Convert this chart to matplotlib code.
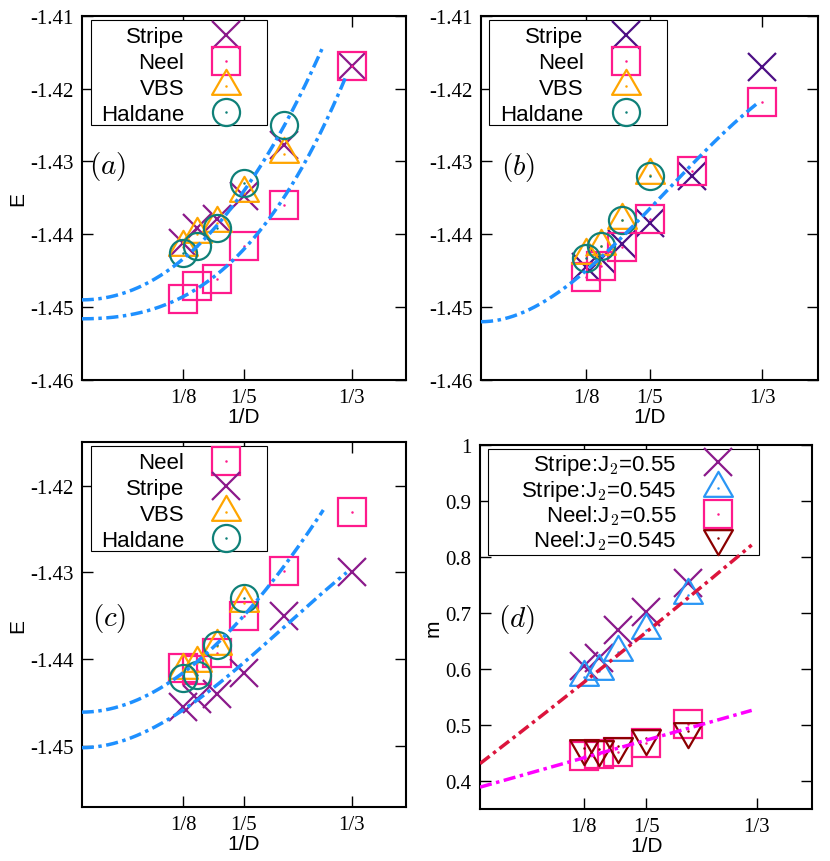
import numpy as np
import matplotlib
matplotlib.use('Agg')
import matplotlib.pyplot as plt
from matplotlib.path import Path
from matplotlib.patches import Rectangle
from matplotlib.legend_handler import HandlerTuple
from matplotlib.font_manager import FontProperties

plt.rcParams['axes.unicode_minus'] = False
plt.rcParams['mathtext.fontset'] = 'cm'
plt.rcParams['font.family'] = ['Liberation Serif', 'DejaVu Serif']

# ---------------- data ----------------
inv_D = [1/8, 1/7, 1/6, 1/5, 1/4, 1/3]
x_ticks = [1/8, 1/5, 1/3]
x_tick_labels = ['1/8', '1/5', '1/3']

# panel (a)
a_stripe = [-1.4412, -1.4391, -1.4379, -1.4347, -1.4278, -1.4169]
a_neel = [-1.4489, -1.4471, -1.4461, -1.4416, -1.4360, -1.4169]
a_vbs = [-1.4418, -1.4400, -1.4385, -1.4344, -1.4290]
a_haldane = [-1.4426, -1.4416, -1.4391, -1.4330, -1.4250]
a_fit_upper = [-1.4490, 0.3344, 0.192]   # E0, c2, c3  (E = E0 + c2 x^2 + c3 x^3)
a_fit_upper_xmax = 0.2967
a_fit_lower = [-1.4516, 0.12, 0.59]
a_fit_lower_xmax = 0.327

# panel (b)
b_stripe = [-1.4445, -1.4434, -1.4413, -1.4385, -1.4320, -1.4171]
b_neel = [-1.4459, -1.4444, -1.4418, -1.4379, -1.4313, -1.4218]
b_vbs = [-1.4428, -1.4416, -1.4380, -1.4319]
b_haldane = [-1.4432, -1.4416, -1.4380, -1.4320]
b_fit = [-1.4520, 0.557, -0.848]
b_fit_xmax = 0.327

# panel (c)
c_neel = [-1.4410, -1.4412, -1.4393, -1.4350, -1.4298, -1.4230]
c_stripe = [-1.4455, -1.4446, -1.4440, -1.4416, -1.4350, -1.4299]
c_vbs = [-1.4413, -1.4404, -1.4385, -1.4335]
c_haldane = [-1.4422, -1.4418, -1.4384, -1.4330]
c_fit_upper = [-1.4461, 0.3093, -0.159]
c_fit_upper_xmax = 0.2983
c_fit_lower = [-1.4502, 0.333, -0.441]
c_fit_lower_xmax = 0.327

# panel (d)
d_stripe_055 = [0.606, 0.619, 0.670, 0.701, 0.753]
d_stripe_0545 = [0.586, 0.596, 0.631, 0.669, 0.731]
d_neel_055 = [0.445, 0.449, 0.452, 0.467, 0.501]
d_neel_0545 = [0.458, 0.457, 0.463, 0.477, 0.489]
d_fit_stripe = [0.431, 1.14, 0.162]   # m0, c1, c2 (m = m0 + c1 x + c2 x^2)
d_fit_neel = [0.389, 0.419, 0.0]
d_fit_xmax = 0.327

E_ticks_ab = [-1.46, -1.45, -1.44, -1.43, -1.42, -1.41]
E_ticks_c = [-1.45, -1.44, -1.43, -1.42]
m_ticks = [0.4, 0.5, 0.6, 0.7, 0.8, 0.9, 1.0]
m_tick_labels = ['0.4', '0.5', '0.6', '0.7', '0.8', '0.9', '1']

# ---------------- styles ----------------
C_STRIPE = '#8b1a8b'
C_STRIPE_B = '#4d0f85'
C_NEEL = '#ff1a8c'
C_VBS = '#ffa500'
C_HALD = '#0f8078'
C_FIT = '#1e90ff'
C_BLUE = '#2a96f5'
C_DRED = '#8b0000'
C_CRIMSON = '#dc143c'
C_MAGENTA = '#ff00ff'

tri_up = Path([(0, 1), (-0.866, -0.5), (0.866, -0.5), (0, 1)],
              [Path.MOVETO, Path.LINETO, Path.LINETO, Path.CLOSEPOLY])
tri_down = Path([(0, -1), (-0.866, 0.5), (0.866, 0.5), (0, -1)],
                [Path.MOVETO, Path.LINETO, Path.LINETO, Path.CLOSEPOLY])

MS = {'x': 19.5, 's': 19.5, 'o': 19.5, 'tri': 24}
DASH = (3.5, 1.3, 1.0, 1.3)
sans = FontProperties(family='Liberation Sans', size=15)
sans_leg = FontProperties(family='Liberation Sans', size=16)


def series(ax, y, marker, color):
    x = inv_D[:len(y)]
    if marker == 'tri':
        mk, ms = tri_up, MS['tri']
    elif marker == 'trid':
        mk, ms = tri_down, MS['tri']
    else:
        mk, ms = marker, MS[marker]
    h, = ax.plot(x, y, ls='none', marker=mk, ms=ms, mfc='none', mec=color, mew=1.6, zorder=3)
    d, = ax.plot(x, y, ls='none', marker='o', ms=1.8, mfc=color, mec='none', zorder=3)
    return (h, d)


def fit_line(ax, coef, xmax, color, kind='E'):
    xs = np.linspace(0, xmax, 300)
    if kind == 'E':
        ys = coef[0] + coef[1] * xs**2 + coef[2] * xs**3
    else:
        ys = coef[0] + coef[1] * xs + coef[2] * xs**2
    ax.plot(xs, ys, color=color, lw=2.5, dashes=DASH, zorder=6)


def style_axes(ax, yticks, ylim, ylabel, yticklabels=None):
    ax.set_xlim(0, 0.4)
    ax.set_ylim(*ylim)
    ax.set_xticks(x_ticks)
    ax.set_xticklabels(x_tick_labels)
    ax.set_yticks(yticks)
    if yticklabels is None:
        yticklabels = ['%.2f' % v for v in yticks]
    ax.set_yticklabels(yticklabels)
    ax.tick_params(direction='in', length=8, width=1, top=True, right=True,
                   labelsize=15, pad=6)
    for s in ax.spines.values():
        s.set_linewidth(1.5)
    ax.set_xlabel('1/D', fontproperties=sans, labelpad=0)
    ax.set_ylabel(ylabel, fontproperties=sans, labelpad=2)


def legend(ax, handles, labels, box, spacing=0.22, dy=0.0):
    # box = (x0, y0, x1, y1) of the key frame, axes fraction
    x0, y0, x1, y1 = box
    ax.add_patch(Rectangle((x0, y0), x1 - x0, y1 - y0, transform=ax.transAxes,
                           facecolor='white', edgecolor='black', lw=0.8,
                           zorder=2.5))
    lg = ax.legend(handles, labels, loc='upper right', bbox_to_anchor=(x1, y1 + dy),
                   borderaxespad=0, markerfirst=False, frameon=False,
                   prop=sans_leg, numpoints=1,
                   handlelength=3.1, handletextpad=0.34, borderpad=0.3,
                   labelspacing=spacing,
                   handler_map={tuple: HandlerTuple(ndivide=1, pad=0)})
    return lg


fig = plt.figure(figsize=(8.3, 8.62), dpi=100)
ax_a = fig.add_axes([0.0984, 0.558, 0.3904, 0.4226])
ax_b = fig.add_axes([0.5795, 0.558, 0.4064, 0.4226])
ax_c = fig.add_axes([0.0984, 0.0630, 0.3904, 0.4227])
ax_d = fig.add_axes([0.5783, 0.0603, 0.4004, 0.4226])

# (a)
h1 = series(ax_a, a_stripe, 'x', C_STRIPE)
h2 = series(ax_a, a_neel, 's', C_NEEL)
h3 = series(ax_a, a_vbs, 'tri', C_VBS)
h4 = series(ax_a, a_haldane, 'o', C_HALD)
fit_line(ax_a, a_fit_upper, a_fit_upper_xmax, C_FIT)
fit_line(ax_a, a_fit_lower, a_fit_lower_xmax, C_FIT)
style_axes(ax_a, E_ticks_ab, (-1.46, -1.41), 'E')
legend(ax_a, [h1, h2, h3, h4], ['Stripe', 'Neel', 'VBS', 'Haldane'],
       (0.0278, 0.700, 0.5728, 0.989))
ax_a.text(0.081, 0.590, r'$(a)$', transform=ax_a.transAxes, fontsize=21,
          ha='center', va='center')

# (b)
h1 = series(ax_b, b_stripe, 'x', C_STRIPE_B)
h2 = series(ax_b, b_neel, 's', C_NEEL)
h3 = series(ax_b, b_vbs, 'tri', C_VBS)
h4 = series(ax_b, b_haldane, 'o', C_HALD)
fit_line(ax_b, b_fit, b_fit_xmax, C_FIT)
style_axes(ax_b, E_ticks_ab, (-1.46, -1.41), '')
legend(ax_b, [h1, h2, h3, h4], ['Stripe', 'Neel', 'VBS', 'Haldane'],
       (0.0246, 0.700, 0.5505, 0.989))
ax_b.text(0.110, 0.585, r'$(b)$', transform=ax_b.transAxes, fontsize=21,
          ha='center', va='center')

# (c)
h1 = series(ax_c, c_neel, 's', C_NEEL)
h2 = series(ax_c, c_stripe, 'x', C_STRIPE)
h3 = series(ax_c, c_vbs, 'tri', C_VBS)
h4 = series(ax_c, c_haldane, 'o', C_HALD)
fit_line(ax_c, c_fit_upper, c_fit_upper_xmax, C_FIT)
fit_line(ax_c, c_fit_lower, c_fit_lower_xmax, C_FIT)
style_axes(ax_c, E_ticks_c, (-1.457, -1.415), 'E')
legend(ax_c, [h1, h2, h3, h4], ['Neel', 'Stripe', 'VBS', 'Haldane'],
       (0.0278, 0.7025, 0.5728, 0.9907))
ax_c.text(0.084, 0.52, r'$(c)$', transform=ax_c.transAxes, fontsize=21,
          ha='center', va='center')

# (d)
h1 = series(ax_d, d_stripe_055, 'x', C_STRIPE)
h2 = series(ax_d, d_stripe_0545, 'tri', C_BLUE)
h3 = series(ax_d, d_neel_055, 's', C_NEEL)
h4 = series(ax_d, d_neel_0545, 'trid', C_DRED)
fit_line(ax_d, d_fit_stripe, d_fit_xmax, C_CRIMSON, kind='m')
fit_line(ax_d, d_fit_neel, d_fit_xmax, C_MAGENTA, kind='m')
style_axes(ax_d, m_ticks, (0.35, 1.0), 'm', m_tick_labels)
legend(ax_d, [h1, h2, h3, h4],
       [r'Stripe:J$_{\mathsf{2}}$=0.55', r'Stripe:J$_{\mathsf{2}}$=0.545',
        r'Neel:J$_{\mathsf{2}}$=0.55', r'Neel:J$_{\mathsf{2}}$=0.545'],
       (0.025, 0.698, 0.8405, 0.9882), spacing=0.04, dy=0.011)
ax_d.text(0.111, 0.524, r'$(d)$', transform=ax_d.transAxes, fontsize=21,
          ha='center', va='center')

fig.savefig('out.png', dpi=100)
